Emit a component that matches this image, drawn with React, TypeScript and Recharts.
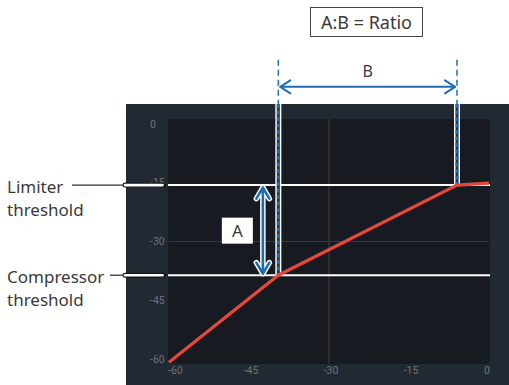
import React from 'react';
import { LineChart, Line, XAxis, YAxis, ReferenceLine } from 'recharts';

// ---- data ----
const inputLevels = [-60, -39.5, -6.0, 0];
const outputLevels = [-60.8, -38.6, -15.6, -15.1];
const xTicks = [-60, -45, -30, -15, 0];
const yTicks = [0, -15, -30, -45, -60];
const compressorThreshold = -38.6;
const limiterThreshold = -15.6;
const compressorKneeInput = -39.5;
const limiterKneeInput = -6.0;
const limiterLabel = ['Limiter', 'threshold'];
const compressorLabel = ['Compressor', 'threshold'];
const ratioText = 'A:B = Ratio';
const labelA = 'A';
const labelB = 'B';
const arrowAInput = -42.4;
const arrowBLevel = 9.5;
const dashTopLevel = 16.4;
const gridLevel = -30;

const data = inputLevels.map((x, i) => ({ input: x, output: outputLevels[i] }));

// ---- styles ----
const BLUE = '#1f6cb2';
const RED = '#e5483a';
const TEXT = '#3a3a3a';
const TICK = '#6e747b';
const PANEL_TOP = 104;
const FONT = '"Noto Sans", "Liberation Sans", sans-serif';

const XTick = (p: any) => {
  const v = p.payload.value;
  const anchor = v === xTicks[0] ? 'start' : v === xTicks[xTicks.length - 1] ? 'end' : 'middle';
  const dx = v === xTicks[0] ? -1 : v === xTicks[xTicks.length - 1] ? 1 : 2;
  return (
    <text x={p.x + dx} y={p.y + 9.5} textAnchor={anchor} fill={TICK} fontSize={10.5} fontFamily="Roboto, sans-serif">
      {v}
    </text>
  );
};

const YTick = (p: any) => (
  <text x={p.x - 19} y={p.y} dy="0.355em" textAnchor="start" fill={TICK} fontSize={10.5} fontFamily="Roboto, sans-serif">
    {p.payload.value}
  </text>
);

const PlotThreshold = (p: any) => (
  <line x1={p.x1 - 1} x2={p.x2 + 1} y1={p.y1} y2={p.y1} stroke="#ffffff" strokeWidth={2} />
);

const makeCallout = (lines: string[], calloutStart: number) => (p: any) => {
  const y = p.y1;
  return (
    <g>
      <line x1={calloutStart} x2={127} y1={y} y2={y} stroke="#333" strokeWidth={1.3} />
      <line x1={125} x2={163} y1={y} y2={y} stroke="#111418" strokeWidth={5} strokeLinecap="round" />
      <line x1={125} x2={162.5} y1={y} y2={y} stroke="#ffffff" strokeWidth={2.6} strokeLinecap="round" />
      <text x={7} y={y + 8} fill={TEXT} fontSize={17} fontFamily={FONT}>{lines[0]}</text>
      <text x={7} y={y + 31} fill={TEXT} fontSize={17} fontFamily={FONT}>{lines[1]}</text>
    </g>
  );
};

const KneeShape = (p: any) => {
  const x = p.x1;
  const yTop = Math.min(p.y1, p.y2);
  const yBot = Math.max(p.y1, p.y2);
  return (
    <g>
      <line x1={x} x2={x} y1={yTop} y2={PANEL_TOP} stroke={BLUE} strokeWidth={1.5} strokeDasharray="6 4" />
      <line x1={x} x2={x} y1={PANEL_TOP} y2={yBot} stroke="#ffffff" strokeWidth={6} />
      <line x1={x} x2={x} y1={PANEL_TOP} y2={yBot} stroke="#2b3038" strokeWidth={3} />
      <line x1={x} x2={x} y1={PANEL_TOP} y2={yBot} stroke={BLUE} strokeWidth={3} strokeDasharray="4 2.5" />
    </g>
  );
};

const ArrowB = (p: any) => {
  const y = p.y1;
  const xa = Math.min(p.x1, p.x2) + 2;
  const xb = Math.max(p.x1, p.x2) - 2;
  const h = 10;
  const w = 6.5;
  return (
    <g fill="none" stroke={BLUE} strokeWidth={2} strokeLinecap="round" strokeLinejoin="round">
      <line x1={xa} x2={xb} y1={y} y2={y} />
      <polyline points={`${xa + h},${y - w} ${xa},${y} ${xa + h},${y + w}`} />
      <polyline points={`${xb - h},${y - w} ${xb},${y} ${xb - h},${y + w}`} />
      <text x={(xa + xb) / 2} y={y - 10} textAnchor="middle" fill={TEXT} stroke="none" fontSize={16} fontFamily={FONT}>
        {labelB}
      </text>
    </g>
  );
};

const ArrowA = (p: any) => {
  const x = p.x1;
  const ya = Math.min(p.y1, p.y2) + 2.5;
  const yb = Math.max(p.y1, p.y2) - 1.5;
  const h = 11;
  const w = 6.5;
  const path = `M${x},${ya} L${x},${yb} M${x - w},${ya + h} L${x},${ya} L${x + w},${ya + h} M${x - w},${yb - h} L${x},${yb} L${x + w},${yb - h}`;
  const mid = (ya + yb) / 2;
  return (
    <g fill="none" strokeLinecap="round" strokeLinejoin="round">
      <path d={path} stroke="#ffffff" strokeWidth={5.5} />
      <path d={path} stroke={BLUE} strokeWidth={2.6} />
      <rect x={x - 41} y={mid - 13} width={31} height={26} fill="#ffffff" stroke="none" />
      <text x={x - 25.5} y={mid + 6} textAnchor="middle" fill={TEXT} stroke="none" fontSize={17} fontFamily={FONT}>
        {labelA}
      </text>
    </g>
  );
};

export default function App() {
  const hi: any = { zIndex: 2000 };
  return (
    <div style={{ position: 'absolute', left: 0, top: 0, width: 509, height: 385, background: '#ffffff', overflow: 'hidden' }}>
      <div style={{ position: 'absolute', left: 126, top: PANEL_TOP, width: 383, height: 281, background: '#212a33' }} />
      <div style={{ position: 'absolute', left: 168, top: 119, width: 322, height: 245, background: '#171b21', borderRadius: 4 }} />
      <div
        style={{
          position: 'absolute', left: 310, top: 7, width: 111, height: 28, border: '1px solid #444',
          display: 'flex', alignItems: 'center', justifyContent: 'center', fontFamily: FONT, fontSize: 18, color: TEXT,
        }}
      >
        {ratioText}
      </div>
      <div style={{ position: 'absolute', left: 0, top: 0 }}>
        <LineChart width={509} height={385} data={data} margin={{ top: 119, right: 20, bottom: 0, left: 150 }}>
          <XAxis
            dataKey="input" type="number" domain={[-60, 0]} ticks={xTicks} height={21}
            axisLine={false} tickLine={false} tickSize={0} tickMargin={0} tick={<XTick />} interval={0}
          />
          <YAxis
            type="number" domain={[-61.27, 1.28]} ticks={yTicks} width={19}
            axisLine={false} tickLine={false} tickSize={0} tickMargin={0} tick={<YTick />} interval={0}
          />
          <ReferenceLine x={gridLevel} stroke="#3b3935" strokeWidth={1.2} />
          <ReferenceLine y={gridLevel} stroke="#3b3935" strokeWidth={1.2} />
          <ReferenceLine y={limiterThreshold} shape={PlotThreshold} />
          <ReferenceLine y={compressorThreshold} shape={PlotThreshold} />
          <ReferenceLine
            segment={[{ x: compressorKneeInput, y: dashTopLevel }, { x: compressorKneeInput, y: compressorThreshold }]}
            shape={KneeShape} ifOverflow="visible"
          />
          <ReferenceLine
            segment={[{ x: limiterKneeInput, y: dashTopLevel }, { x: limiterKneeInput, y: limiterThreshold }]}
            shape={KneeShape} ifOverflow="visible"
          />
          <Line
            dataKey="output" type="linear" stroke={RED} strokeWidth={3.2} dot={false} activeDot={false}
            isAnimationActive={false}
          />
          <ReferenceLine y={limiterThreshold} shape={makeCallout(limiterLabel, 72)} ifOverflow="visible" {...hi} />
          <ReferenceLine y={compressorThreshold} shape={makeCallout(compressorLabel, 110)} ifOverflow="visible" {...hi} />
          <ReferenceLine
            segment={[{ x: compressorKneeInput, y: arrowBLevel }, { x: limiterKneeInput, y: arrowBLevel }]}
            shape={ArrowB} ifOverflow="visible"
          />
          <ReferenceLine
            segment={[{ x: arrowAInput, y: limiterThreshold }, { x: arrowAInput, y: compressorThreshold }]}
            shape={ArrowA} ifOverflow="visible"
          />
        </LineChart>
      </div>
    </div>
  );
}
